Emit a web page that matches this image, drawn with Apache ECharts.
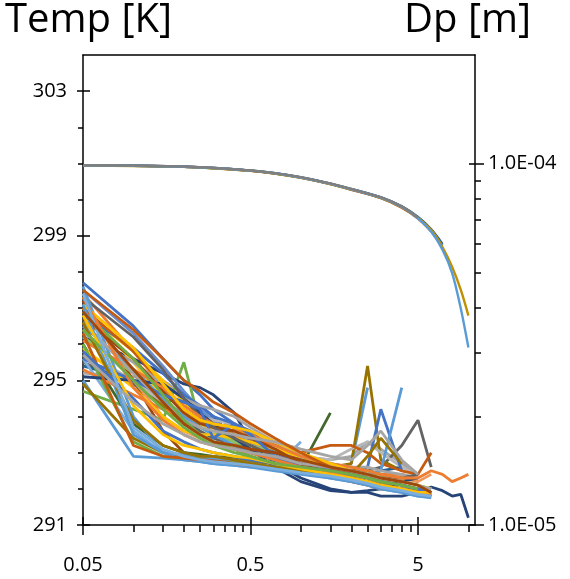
<!DOCTYPE html>
<html>
<head>
<meta charset="utf-8">
<script src="https://cdn.jsdelivr.net/npm/echarts@6/dist/echarts.min.js"></script>
<style>
html,body{margin:0;padding:0;background:#fff;}
#chart{width:570px;height:579px;}
</style>
</head>
<body>
<div id="chart"></div>
<script>
// x positions (log scale) of the temperature profiles
const tX = [0.05, 0.1, 0.15, 0.2, 0.25, 0.3, 0.4, 0.5, 0.7, 1, 1.5, 2, 2.5, 3, 4, 5, 6, 7, 8, 9, 10];

// temperature profiles [K]
const t01 = [297.7,296.5,295.6,295.0,294.6,294.2,293.8,293.4,293.0,292.8,292.5,292.4,292.3,292.2,292.1,292.0,291.9];
const t02 = [297.4,295.8,294.8,294.2,293.9,293.7,293.3,293.0,292.8,292.6,292.5,292.4,292.3,292.3,292.2,292.3,292.5,292.4,292.2,292.3,292.4];
const t03 = [295.2,295.1,295.0,294.6,294.3,294.0,293.7,293.4,293.1,292.9,292.8,292.9,293.3,293.1,292.7,292.4];
const t04 = [296.9,295.8,295.0,294.4,294.0,293.8,293.7,293.5,293.2,292.8,292.5,292.35,292.2,292.15,292.0,291.9,291.85];
const t05 = [295.0,292.9,292.85,292.8,292.75,292.7,292.65,292.6,292.55,292.5,292.45,292.7,294.8];
const t06 = [294.7,294.2,293.9,295.5,293.8,293.6,293.3,293.1,292.9,292.7,292.6,292.5,292.4,292.4,292.3,292.2];
const t07 = [296.2,295.6,295.2,294.9,294.8,294.6,294.1,293.3,292.7,292.3,292.0,291.9,291.9,291.8,291.8,291.9,292.05,291.95,291.8,291.85,291.2];
const t08 = [297.2,295.0,293.6,293.0,292.9,292.8,292.75,292.7,292.6,292.5,292.4,292.3,292.2,292.1,292.0,291.9,291.8];
const t09 = [295.5,294.9,294.3,293.9,293.6,293.4,293.2,293.0,292.8,292.7,292.6,292.5,292.5,292.6,293.2,293.9,292.6];
const t10 = [296.6,295.2,294.3,293.8,293.5,293.3,293.1,292.9,292.7,292.6,292.6,292.7,295.4,292.8,292.5];
const t11 = [295.4,295.0,294.6,294.4,294.3,294.0,293.4,293.1,292.8,292.6,292.5,292.4,292.4,292.5,292.6];
const t12 = [296.0,293.8,293.2,293.0,292.95,292.9,292.85,292.8,292.7,292.6,294.1];
const t13 = [297.5,296.3,295.4,294.7,294.2,293.9,293.5,293.3,293.0,292.8,292.5,292.4,292.3,292.25,292.1,292.0,291.9];
const t14 = [296.4,295.0,294.0,293.6,293.4,293.3,293.2,293.0,292.9,292.7,292.6,292.5,292.4,292.3,292.3,292.2,292.4];
const t15 = [295.8,295.0,294.4,294.1,294.0,293.9,293.8,293.6,293.2,292.9,292.8,293.1,293.3,293.0,292.6,292.4];
const t16 = [297.0,295.5,294.5,294.0,293.8,293.6,293.5,293.4,293.3,293.0,292.6,292.4,292.3,292.2,292.1,292.0,291.9];
const t17 = [295.6,293.6,293.0,292.9,292.85,292.8,292.7,292.65,292.6,293.3];
const t18 = [296.2,295.2,294.5,294.0,293.7,293.5,293.3,293.2,293.0,292.8,292.7,292.6,292.5,292.4,292.3];
const t19 = [296.8,295.9,295.2,294.6,294.3,294.0,293.8,293.6,293.0,292.7,292.6,292.5,292.6,294.2,292.5];
const t20 = [295.3,294.6,294.2,294.0,293.9,293.7,293.5,293.2,292.9,292.7,292.6,292.6,292.5,292.4,292.4,292.3];
const t21 = [297.0,295.8,294.9,294.2,293.9,293.7,293.6,293.4,293.2,293.0,293.2,293.2,293.0,292.7,292.5,292.4,293.0];
const t22 = [296.5,295.3,294.5,294.0,293.7,293.5,293.2,293.0,292.8,292.6,292.5,292.4,292.4,292.5,294.8];
const t23 = [295.9,294.8,294.0,293.6,293.5,293.5,293.4,293.3,293.1,292.9,292.6,292.5,292.4,292.3,292.2,292.1,292.0];
const t24 = [296.3,295.5,294.9,294.5,294.3,294.2,294.0,293.7,293.3,292.9,292.7,292.6,292.6,292.5,292.4,292.3];
const t25 = [296.0,293.3,292.9,292.85,292.8,292.8,292.75,292.7,292.6,292.5,292.4,292.3,292.2,292.1,292.0,291.9];
const t26 = [295.1,295.0,294.9,294.5,294.1,293.8,293.4,293.1,292.6,292.2,291.95,291.9,291.95,292.0,292.2,292.3];
const t27 = [296.7,295.6,294.7,294.1,293.8,293.7,293.6,293.4,293.1,292.7,292.4,292.3,292.2,292.1,292.0,291.9,291.85];
const t28 = [297.3,296.2,295.3,294.5,294.0,293.7,293.4,293.2,292.9,292.6,292.5,292.5,292.4,292.3,292.3,292.4];
const t29 = [294.9,293.4,293.0,292.9,292.9,292.85,292.8,292.75,292.7,292.6,292.5,292.4,292.9,293.4,292.7];
const t30 = [297.6,294.0,293.0,292.8,292.75,292.7,292.65,292.6,292.5,292.4,292.3,292.2,292.1,292.0,291.9,291.8,291.8];
const t31 = [296.1,295.3,294.8,294.3,294.0,293.8,293.7,293.5,293.2,292.9,292.7,292.6,292.5,292.4,292.3,292.3];
const t32 = [295.6,295.0,294.6,294.4,294.2,293.4,293.8,293.5,292.9,292.6,292.4,292.3,292.2,292.1,292.0,292.0];
const t33 = [297.1,295.9,294.9,294.2,293.9,293.8,293.7,293.6,293.3,293.0,292.7,292.5,292.4,292.3,292.2,292.1,292.0];
const t34 = [296.6,295.2,294.4,293.9,293.7,293.6,293.5,293.4,293.3,293.1,292.9,292.8,293.2,293.6,292.8,292.4];
const t35 = [296.9,295.6,294.6,293.9,293.5,293.3,293.1,292.9,292.7,292.6,292.4,292.3,292.2,292.1,292.0,291.9,291.9];
const t36 = [297.5,296.4,295.6,295.0,294.7,294.4,294.1,293.8,293.4,293.0,292.6,292.4,292.3,292.2,292.1,292.0,291.9];
const t37 = [296.3,293.2,292.9,292.85,292.8,292.8,292.7,292.65,292.6,292.5,292.35,292.2,292.1,292.0,291.95,291.9,291.8];
const t38 = [297.1,293.5,293.0,292.95,292.9,292.85,292.8,292.7,292.6,292.45,292.3,292.2,292.1,292.0,291.9,291.8,291.75];
const t39 = [296.6,293.9,293.2,293.0,292.9,292.9,292.8,292.7,292.6,292.5,292.4,292.3,292.2,292.1,292.0,291.9];
const t40 = [295.8,294.5,293.6,293.3,293.1,293.0,292.9,292.8,292.7,292.6,292.5,292.4,292.3,292.2,292.1,292.0,291.9];
const t41 = [297.3,294.8,293.9,293.5,293.3,293.2,293.1,293.0,292.8,292.6,292.45,292.3,292.2,292.1,292.0,291.9,291.85];
const t42 = [296.8,294.3,293.5,293.2,293.1,293.0,292.9,292.85,292.7,292.55,292.4,292.3,292.2,292.1,292.0,291.9,291.9];
const t43 = [296.4,295.0,294.2,293.7,293.4,293.2,293.0,292.9,292.7,292.6,292.5,292.4,292.3,292.2,292.1,292.0];
const t44 = [295.7,294.4,293.8,293.5,293.3,293.2,293.1,293.0,292.9,292.7,292.6,292.5,292.4,292.3,292.2,292.1,292.0];
const t45 = [297.4,293.7,293.1,292.9,292.8,292.75,292.7,292.65,292.55,292.45,292.35,292.25,292.15,292.05,291.95,291.85,291.8];
const t46 = [296.9,295.3,294.4,293.8,293.5,293.3,293.2,293.1,293.0,292.8,292.6,292.5,292.4,292.3,292.2,292.1,291.9];

const tempProfiles = [t01,t02,t03,t04,t05,t06,t07,t08,t09,t10,t11,t12,t13,t14,t15,t16,t17,t18,t19,t20,t21,t22,t23,
                      t24,t25,t26,t27,t28,t29,t30,t31,t32,t33,t34,t35,t36,t37,t38,t39,t40,t41,t42,t43,t44,t45,t46];
const tempColors = ['#4472C4','#ED7D31','#A5A5A5','#FFC000','#5B9BD5','#70AD47','#264478','#9E480E','#636363',
                    '#997300','#255E91','#43682B','#698ED0','#F1975A','#B7B7B7','#FFCD33','#7CAFDD','#8CC168',
                    '#4472C4','#ED7D31','#C55A11','#5B9BD5','#FFC000','#A5A5A5','#70AD47','#264478','#9E480E',
                    '#636363','#997300','#5B9BD5','#ED7D31','#4472C4','#FFC000','#A5A5A5','#70AD47','#C55A11',
                    '#C55A11','#5B9BD5','#997300','#4472C4','#ED7D31','#FFC000','#70AD47','#A5A5A5','#7CAFDD','#9E480E'];

// droplet diameter curves [m]
const dX = [0.05, 0.1, 0.2, 0.3, 0.5, 0.7, 1, 1.5, 2, 3, 4, 5, 6, 7, 8, 9, 10];
const d1 = [9.90e-5,9.88e-5,9.82e-5,9.74e-5,9.58e-5,9.42e-5,9.18e-5,8.82e-5,8.52e-5,8.08e-5,7.62e-5,7.10e-5];
const d2 = [9.88e-5,9.86e-5,9.80e-5,9.72e-5,9.56e-5,9.40e-5,9.15e-5,8.79e-5,8.49e-5,8.05e-5,7.58e-5,7.08e-5,6.55e-5,5.88e-5,5.18e-5,4.48e-5,3.80e-5];
const d3 = [9.89e-5,9.87e-5,9.81e-5,9.73e-5,9.57e-5,9.41e-5,9.16e-5,8.80e-5,8.50e-5,8.06e-5,7.59e-5,7.06e-5,6.48e-5,5.78e-5,4.98e-5,3.98e-5,3.10e-5];
const d4 = [9.89e-5,9.87e-5,9.81e-5,9.73e-5,9.57e-5,9.41e-5,9.17e-5,8.81e-5,8.51e-5,8.07e-5,7.61e-5,7.09e-5,6.52e-5,5.95e-5];
const d5 = [9.90e-5,9.88e-5,9.81e-5,9.73e-5,9.57e-5,9.40e-5,9.15e-5,8.78e-5,8.48e-5,8.03e-5,7.56e-5,7.05e-5,6.50e-5];
const d6 = [9.90e-5,9.87e-5,9.80e-5,9.72e-5,9.56e-5,9.39e-5,9.14e-5,8.78e-5,8.47e-5,8.04e-5,7.57e-5,7.07e-5,6.53e-5];
const d7 = [9.89e-5,9.87e-5,9.81e-5,9.72e-5,9.57e-5,9.40e-5,9.16e-5,8.80e-5,8.50e-5,8.06e-5,7.60e-5,7.10e-5,6.56e-5];
const d8 = [9.90e-5,9.88e-5,9.82e-5,9.74e-5,9.58e-5,9.42e-5,9.17e-5,8.81e-5,8.51e-5,8.07e-5,7.62e-5,7.12e-5,6.58e-5,6.00e-5];
const dpCurves = [d6,d7,d5,d8,d4,d2,d3,d1];
const dpColors = ['#ED7D31','#70AD47','#C55A11','#255E91','#4472C4','#BF9000','#5B9BD5','#7F7F7F'];

// axis ticks
const xMajorTicks = [0.05, 0.5, 5];
const xMinorTicks = [0.1,0.15,0.2,0.25,0.3,0.35,0.4,0.45,1,1.5,2,2.5,3,3.5,4,4.5,10];
const tempMajorTicks = [291, 295, 299, 303];
const tempMinorTicks = [292,293,294,296,297,298,300,301,302];
const dpMajorTicks = [1e-5, 1e-4];
const dpMinorTicks = [2e-5,3e-5,4e-5,5e-5,6e-5,7e-5,8e-5,9e-5];

const FONT = '"Open Sans", "Noto Sans", sans-serif';
const AX = {color:'#000', width:1.5};

function fmtX(v){ return String(parseFloat(Number(v).toPrecision(6))); }
function fmtDp(v){
  const e = Math.floor(Math.log10(v) + 1e-9);
  const m = v / Math.pow(10, e);
  const sign = e < 0 ? '-' : '+';
  return m.toFixed(1) + 'E' + sign + String(Math.abs(e)).padStart(2, '0');
}

const X_MIN = 0.05, X_MAX = 10.95;
function xAx(extra){
  return Object.assign({
    type:'log', logBase:10, min:X_MIN, max:X_MAX, position:'bottom',
    axisLine:{show:false}, axisLabel:{show:false}, axisTick:{show:false},
    splitLine:{show:false}, minorTick:{show:false}, minorSplitLine:{show:false}
  }, extra);
}
function tAx(extra){
  return Object.assign({
    type:'value', min:291, max:304, position:'left',
    axisLine:{show:false}, axisLabel:{show:false}, axisTick:{show:false},
    splitLine:{show:false}
  }, extra);
}
function dAx(extra){
  return Object.assign({
    type:'log', logBase:10, min:1e-5, max:2e-4, position:'right',
    axisLine:{show:false}, axisLabel:{show:false}, axisTick:{show:false},
    splitLine:{show:false}, minorTick:{show:false}, minorSplitLine:{show:false}
  }, extra);
}

const series = [];
tempProfiles.forEach((vals, i) => {
  series.push({
    type:'line', name:'T' + (i+1), xAxisIndex:0, yAxisIndex:0,
    data: vals.map((v, j) => [tX[j], v]),
    showSymbol:false, symbol:'none',
    lineStyle:{width:2.8, color:tempColors[i]}, itemStyle:{color:tempColors[i]},
    z:2
  });
});
dpCurves.forEach((vals, i) => {
  series.push({
    type:'line', name:'Dp' + (i+1), xAxisIndex:0, yAxisIndex:3,
    data: vals.map((v, j) => [dX[j], v]),
    showSymbol:false, symbol:'none', smooth:0.3,
    lineStyle:{width:2.4, color:dpColors[i]}, itemStyle:{color:dpColors[i]},
    z:3
  });
});

const chart = echarts.init(document.getElementById('chart'), null, {renderer:'canvas'});
chart.setOption({
  animation:false,
  backgroundColor:'#fff',
  grid:{left:83, right:95, top:55, bottom:54, containLabel:false},
  graphic:[
    {type:'text', left:5, top:1, style:{text:'Temp [K]', font:'40px ' + FONT, fill:'#000'}},
    {type:'text', left:404, top:1, style:{text:'Dp [m]', font:'40px ' + FONT, fill:'#000'}}
  ],
  xAxis:[
    xAx({axisLine:{show:true, lineStyle:AX},
         axisTick:{show:true, customValues:xMajorTicks, length:10, lineStyle:AX},
         axisLabel:{show:true, customValues:xMajorTicks, formatter:fmtX, margin:30,
                    fontSize:20, fontFamily:FONT, color:'#000'}}),
    xAx({axisTick:{show:true, inside:true, customValues:xMajorTicks, length:8, lineStyle:AX}}),
    xAx({axisTick:{show:true, customValues:xMinorTicks, length:7, lineStyle:AX}}),
    xAx({position:'top', axisLine:{show:true, lineStyle:AX}})
  ],
  yAxis:[
    tAx({axisLine:{show:true, lineStyle:AX},
         axisTick:{show:true, customValues:tempMajorTicks, length:6, lineStyle:AX},
         axisLabel:{show:true, customValues:tempMajorTicks, margin:16,
                    fontSize:20, fontFamily:FONT, color:'#000'}}),
    tAx({axisTick:{show:true, inside:true, customValues:tempMajorTicks, length:7, lineStyle:AX}}),
    tAx({axisTick:{show:true, customValues:tempMinorTicks, length:5, lineStyle:AX}}),
    dAx({axisLine:{show:true, lineStyle:AX},
         axisTick:{show:true, customValues:dpMajorTicks, length:9, lineStyle:AX},
         axisLabel:{show:true, customValues:dpMajorTicks, formatter:fmtDp, margin:13,
                    fontSize:20, fontFamily:FONT, color:'#000'}}),
    dAx({axisTick:{show:true, inside:true, customValues:dpMajorTicks, length:6, lineStyle:AX}}),
    dAx({axisTick:{show:true, customValues:dpMinorTicks, length:6, lineStyle:AX}})
  ],
  series: series
});
</script>
</body>
</html>
